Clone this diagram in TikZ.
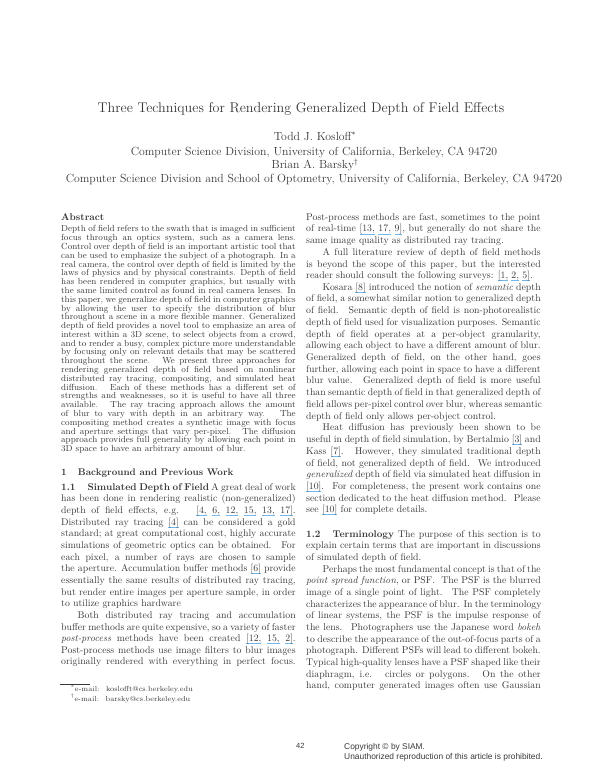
\documentclass[tikz,border=0pt]{standalone}
\usepackage{fontspec}
\newfontfamily\copyfont{Liberation Sans}
\definecolor{inkgray}{gray}{0.22}
\definecolor{citeblue}{rgb}{0.45,0.72,0.92}
\newcommand{\jl}[1]{\makebox[234.5pt][s]{#1}}
\newcommand{\cit}[1]{\sbox0{#1}\rlap{\textcolor{citeblue}{\rule[-2.4pt]{\wd0}{0.8pt}}}\usebox0}
\newcommand{\absfont}{\fontsize{8.85}{10}\selectfont}
\newcommand{\bodyfont}{\fontsize{9.8}{12}\selectfont}
\tikzset{
  pagetext/.style={inner sep=0pt,anchor=base west,text=inkgray},
  abstractline/.style={pagetext,font=\absfont},
  bodyline/.style={pagetext,font=\bodyfont},
  headline/.style={inner sep=0pt,anchor=base,text=inkgray,font=\fontsize{11.75}{14}\selectfont}
}
\begin{document}
\begin{tikzpicture}[x=1pt,y=-1pt]
  \useasboundingbox (0,0) rectangle (600,776);
  % title block
  \node[headline,font=\fontsize{14.1}{16}\selectfont] (title) at (301,112) {Three Techniques for Rendering Generalized Depth of Field Effects};
  \node[headline] (author1) at (315,140) {Todd J. Kosloff$^{*}$};
  \node[headline] (place1) at (314,155) {Computer Science Division, University of California, Berkeley, CA 94720};
  \node[headline] (author2) at (315,168.5) {Brian A. Barsky$^{\dagger}$};
  \node[headline] (place2) at (314,182.5) {Computer Science Division and School of Optometry, University of California, Berkeley, CA 94720};
  % left column, abstract
  \node[bodyline,font=\bodyfont\bfseries] (abshead) at (61,220) {Abstract};
  \foreach \txt [count=\i] in {
    {\jl{Depth of field refers to the swath that is imaged in sufficient}},
    {\jl{focus through an optics system, such as a camera lens.}},
    {\jl{Control over depth of field is an important artistic tool that}},
    {\jl{can be used to emphasize the subject of a photograph. In a}},
    {\jl{real camera, the control over depth of field is limited by the}},
    {\jl{laws of physics and by physical constraints. Depth of field}},
    {\jl{has been rendered in computer graphics, but usually with}},
    {\jl{the same limited control as found in real camera lenses. In}},
    {\jl{this paper, we generalize depth of field in computer graphics}},
    {\jl{by allowing the user to specify the distribution of blur}},
    {\jl{throughout a scene in a more flexible manner. Generalized}},
    {\jl{depth of field provides a novel tool to emphasize an area of}},
    {\jl{interest within a 3D scene, to select objects from a crowd,}},
    {\jl{and to render a busy, complex picture more understandable}},
    {\jl{by focusing only on relevant details that may be scattered}},
    {\jl{throughout the scene. \ We present three approaches for}},
    {\jl{rendering generalized depth of field based on nonlinear}},
    {\jl{distributed ray tracing, compositing, and simulated heat}},
    {\jl{diffusion. \ Each of these methods has a different set of}},
    {\jl{strengths and weaknesses, so it is useful to have all three}},
    {\jl{available. \ The ray tracing approach allows the amount}},
    {\jl{of blur to vary with depth in an arbitrary way. \ The}},
    {\jl{compositing method creates a synthetic image with focus}},
    {\jl{and aperture settings that vary per-pixel. \ The diffusion}},
    {\jl{approach provides full generality by allowing each point in}},
    {3D space to have an arbitrary amount of blur.}}
    \node[abstractline] (abs\i) at (61,{231.9+(\i-1)*8.79}) {\txt};
  % left column, section 1
  \node[bodyline,font=\fontsize{9.65}{12}\selectfont\bfseries] (secnum) at (61,475) {1};
  \node[bodyline,font=\fontsize{9.65}{12}\selectfont\bfseries] (sechead) at (77.7,475) {Background and Previous Work};
  \foreach \txt [count=\i] in {
    {\jl{\textbf{1.1}\hspace{12pt}\textbf{Simulated Depth of Field} A great deal of work}},
    {\jl{has been done in rendering realistic (non-generalized)}},
    {\jl{depth of field effects, e.g. \ \cit{[4,} \cit{6,} \cit{12,} \cit{15,} \cit{13,} \cit{17]}.}},
    {\jl{Distributed ray tracing \cit{[4]} can be considered a gold}},
    {\jl{standard; at great computational cost, highly accurate}},
    {\jl{simulations of geometric optics can be obtained. \ For}},
    {\jl{each pixel, a number of rays are chosen to sample}},
    {\jl{the aperture. Accumulation buffer methods \cit{[6]} provide}},
    {\jl{essentially the same results of distributed ray tracing,}},
    {\jl{but render entire images per aperture sample, in order}},
    {to utilize graphics hardware},
    {\jl{\hspace*{16.5pt}Both distributed ray tracing and accumulation}},
    {\jl{buffer methods are quite expensive, so a variety of faster}},
    {\jl{\textit{post-process} methods have been created \cit{[12,} \cit{15,} \cit{2]}.}},
    {\jl{Post-process methods use image filters to blur images}},
    {\jl{originally rendered with everything in perfect focus.}}}
    \node[bodyline] (left\i) at (61,{490.2+(\i-1)*11.65}) {\txt};
  % footnotes
  \coordinate (ruleL) at (60,684);
  \coordinate (ruleR) at (90,684);
  \draw[inkgray,line width=0.5pt] (ruleL)--(ruleR);
  \node[pagetext,font=\fontsize{7.3}{9}\selectfont] (foot1) at (70.5,691) {$^{*}$e-mail: \ koslofft@cs.berkeley.edu};
  \node[pagetext,font=\fontsize{7.3}{9}\selectfont] (foot2) at (70.5,701) {$^{\dagger}$e-mail: \ barsky@cs.berkeley.edu};
  % right column
  \foreach \txt [count=\i] in {
    {\jl{Post-process methods are fast, sometimes to the point}},
    {\jl{of real-time \cit{[13,} \cit{17,} \cit{9]}, but generally do not share the}},
    {same image quality as distributed ray tracing.},
    {\jl{\hspace*{16.5pt}A full literature review of depth of field methods}},
    {\jl{is beyond the scope of this paper, but the interested}},
    {reader should consult the following surveys: \cit{[1,} \cit{2,} \cit{5]}.}}
    \node[bodyline] (rightA\i) at (306,{220.2+(\i-1)*11.7}) {\txt};
  \foreach \txt [count=\i] in {
    {\jl{\hspace*{16.5pt}Kosara \cit{[8]} introduced the notion of \textit{semantic} depth}},
    {\jl{of field, a somewhat similar notion to generalized depth}},
    {\jl{of field. \ Semantic depth of field is non-photorealistic}},
    {\jl{depth of field used for visualization purposes. Semantic}},
    {\jl{depth of field operates at a per-object granularity,}},
    {\jl{allowing each object to have a different amount of blur.}},
    {\jl{Generalized depth of field, on the other hand, goes}},
    {\jl{further, allowing each point in space to have a different}},
    {\jl{blur value. \ Generalized depth of field is more useful}},
    {\jl{than semantic depth of field in that generalized depth of}},
    {\jl{field allows per-pixel control over blur, whereas semantic}},
    {depth of field only allows per-object control.},
    {\jl{\hspace*{16.5pt}Heat diffusion has previously been shown to be}},
    {\jl{useful in depth of field simulation, by Bertalmio \cit{[3]} and}},
    {\jl{Kass \cit{[7]}. \ However, they simulated traditional depth}},
    {\jl{of field, not generalized depth of field. \ We introduced}},
    {\jl{\textit{generalized} depth of field via simulated heat diffusion in}},
    {\jl{\cit{[10]}. \ For completeness, the present work contains one}},
    {\jl{section dedicated to the heat diffusion method. \ Please}},
    {see \cit{[10]} for complete details.}}
    \node[bodyline] (rightB\i) at (306,{290.2+(\i-1)*11.72}) {\txt};
  \foreach \txt [count=\i] in {
    {\jl{\textbf{1.2}\hspace{12pt}\textbf{Terminology} The purpose of this section is to}},
    {\jl{explain certain terms that are important in discussions}},
    {of simulated depth of field.},
    {\jl{\hspace*{16.5pt}Perhaps the most fundamental concept is that of the}},
    {\jl{\textit{point spread function}, or PSF. \ The PSF is the blurred}},
    {\jl{image of a single point of light. \ The PSF completely}},
    {\jl{characterizes the appearance of blur. In the terminology}},
    {\jl{of linear systems, the PSF is the impulse response of}},
    {\jl{the lens. \ Photographers use the Japanese word \textit{bokeh}}},
    {\jl{to describe the appearance of the out-of-focus parts of a}},
    {\jl{photograph. Different PSFs will lead to different bokeh.}},
    {\jl{Typical high-quality lenses have a PSF shaped like their}},
    {\jl{diaphragm, i.e. \ circles or polygons. \ On the other}},
    {\jl{hand, computer generated images often use Gaussian}}}
    \node[bodyline] (rightC\i) at (306,{537+(\i-1)*11.67}) {\txt};
  % page foot
  \node[pagetext,font=\copyfont\fontsize{7.5}{9}\selectfont] (pagenum) at (296,748) {42};
  \node[pagetext,font=\copyfont\fontsize{8.4}{10}\selectfont] (copy1) at (344,749) {Copyright \textcopyright\ by SIAM.};
  \node[pagetext,font=\copyfont\fontsize{8.4}{10}\selectfont] (copy2) at (344,759) {Unauthorized reproduction of this article is prohibited.};
\end{tikzpicture}
\end{document}
